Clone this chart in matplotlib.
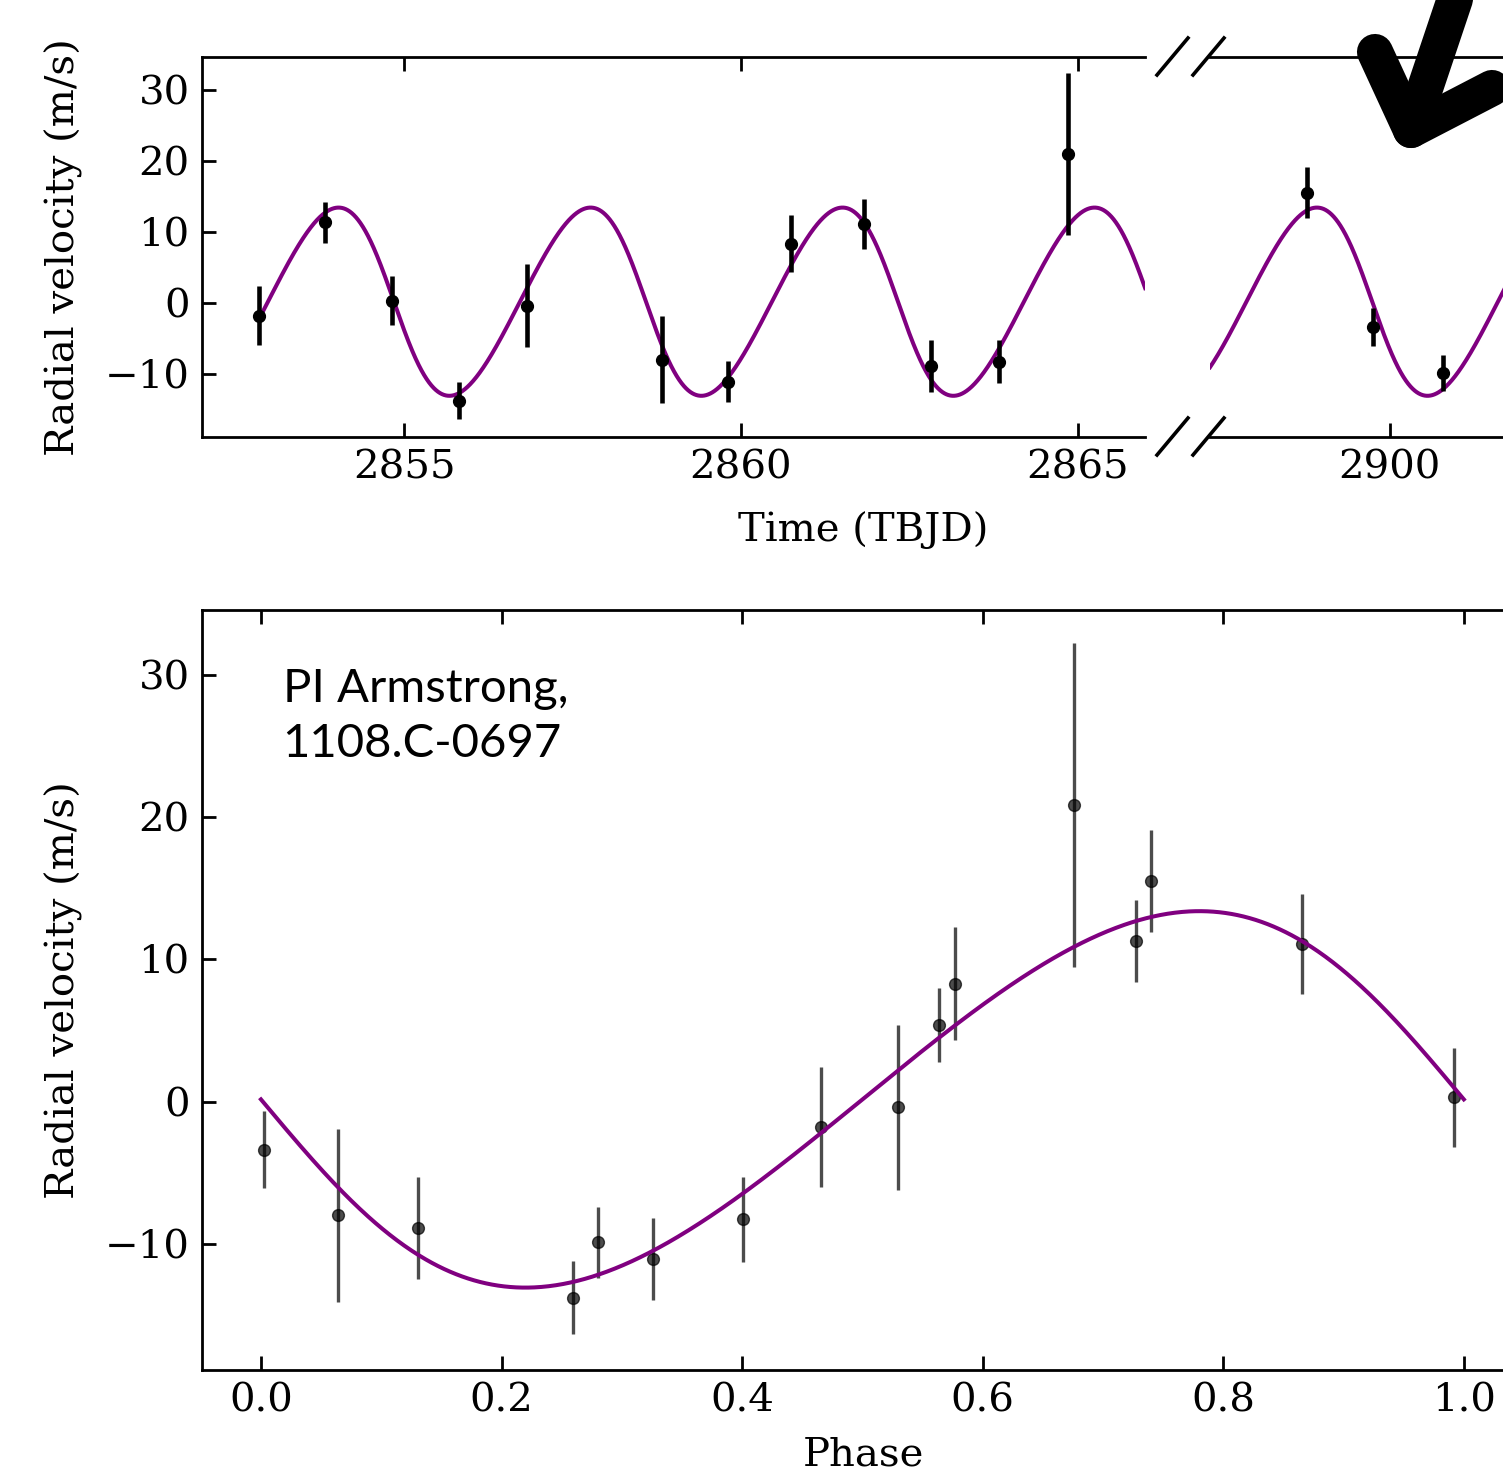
import numpy as np
import matplotlib
matplotlib.use('Agg')
import matplotlib.pyplot as plt
from matplotlib.lines import Line2D

# HARPS radial velocities (TBJD, m/s)
time_tbjd = [2852.85, 2853.83, 2854.82, 2855.82, 2856.83, 2858.83, 2859.81,
             2860.75, 2861.83, 2862.82, 2863.83, 2864.86,
             2898.77, 2899.75, 2900.79, 2901.85]
rv = [-1.8, 11.3, 0.3, -13.8, -0.4, -8.0, -11.1, 8.3, 11.1, -8.9, -8.3, 20.9,
      15.5, -3.4, -9.9, 5.4]
rv_err = [4.2, 2.9, 3.5, 2.6, 5.8, 6.1, 2.9, 4.0, 3.5, 3.6, 3.0, 11.4,
          3.6, 2.7, 2.5, 2.6]

# keplerian fit parameters
period = 3.741
t_peri = 2854.85
ecc = 0.095
omega_deg = 90.0
k_amp = 13.25
gamma = 0.15

time_ticks_left = [2855, 2860, 2865]
time_ticks_right = [2900]
rv_ticks = [-10, 0, 10, 20, 30]
phase_ticks = [0.0, 0.2, 0.4, 0.6, 0.8, 1.0]


def rv_model(t):
    M = 2 * np.pi * (np.asarray(t) - t_peri) / period
    E = M.copy()
    for _ in range(60):
        E = E - (E - ecc * np.sin(E) - M) / (1 - ecc * np.cos(E))
    nu = 2 * np.arctan2(np.sqrt(1 + ecc) * np.sin(E / 2), np.sqrt(1 - ecc) * np.cos(E / 2))
    w = np.radians(omega_deg)
    return gamma + k_amp * (np.cos(nu + w) + ecc * np.cos(w))


W, H = 1503, 1474
plt.rcParams['font.family'] = 'DejaVu Serif'
plt.rcParams['mathtext.fontset'] = 'dejavuserif'

fig = plt.figure(figsize=(W / 100, H / 100), dpi=100, facecolor='white')


def box(x0, y0, x1, y1):
    # pixel box -> figure fraction [left, bottom, width, height]
    return [x0 / W, 1 - y1 / H, (x1 - x0) / W, (y1 - y0) / H]


def px(x, y):
    return x / W, 1 - y / H


ax1 = fig.add_axes(box(202, 57, 1145, 437))
ax2 = fig.add_axes(box(1210, 57, 1524, 437))
ax3 = fig.add_axes(box(202, 610, 1524, 1370))

t = np.array(time_tbjd)
v = np.array(rv)
ve = np.array(rv_err)
phase = ((t - t_peri) / period) % 1.0

t_grid = np.linspace(t.min(), t.max(), 20000)
rv_grid = rv_model(t_grid)
ph_grid = np.linspace(0, 1, 1000)
rv_ph = rv_model(t_peri + ph_grid * period)

fs = 29
tick_kw = dict(direction='in', length=10, width=2, labelsize=fs, pad=9)

for ax in (ax1, ax2):
    ax.plot(t_grid, rv_grid, color='purple', lw=2.9, zorder=1)
    ax.errorbar(t, v, yerr=ve, fmt='o', color='black', ms=8.5, elinewidth=3.3,
                capsize=0, zorder=2)
    for s in ax.spines.values():
        s.set_linewidth(2)

ax1.set_xticks(time_ticks_left)
ax2.set_xticks(time_ticks_right)
ax1.set_yticks(rv_ticks)
ax1.set_xlim(2852, 2866)
ax2.set_xlim(2897.33, 2902.0)
ax1.set_ylim(-18.9, 34.6)
ax2.set_ylim(-18.9, 34.6)
ax1.spines['right'].set_visible(False)
ax2.spines['left'].set_visible(False)
ax1.tick_params(axis='x', top=True, **tick_kw)
ax1.tick_params(axis='y', left=True, right=False, **tick_kw)
ax2.tick_params(axis='x', top=True, **tick_kw)
ax2.tick_params(axis='y', left=False, right=False, labelleft=False)
ax1.set_ylabel('Radial velocity (m/s)', fontsize=fs)
ax1.yaxis.set_label_coords((83 - 202) / 943, 0.5)

fig.text(863 / W, 1 - 530 / H, 'Time (TBJD)', fontsize=fs, ha='center', va='center')

# break marks
for yy in (57, 437):
    for xa in (1157, 1193):
        x0, y0 = px(xa, yy + 18)
        x1, y1 = px(xa + 31, yy - 19)
        fig.add_artist(Line2D([x0, x1], [y0, y1], transform=fig.transFigure,
                              color='black', lw=2.6))

# phase-folded panel
ax3.errorbar(phase, v, yerr=ve, fmt='o', color='black', alpha=0.7, ms=8.5,
             elinewidth=2.4, capsize=0, zorder=2)
ax3.plot(ph_grid, rv_ph, color='purple', lw=2.9, zorder=3)
ax3.set_xticks(phase_ticks)
ax3.set_yticks(rv_ticks)
ax3.set_xlim(-0.049, 1.05)
ax3.set_ylim(-18.9, 34.6)
ax3.tick_params(axis='both', top=True, right=True, **tick_kw)
for s in ax3.spines.values():
    s.set_linewidth(2)
ax3.set_xlabel('Phase', fontsize=fs, labelpad=12)
ax3.set_ylabel('Radial velocity (m/s)', fontsize=fs)
ax3.yaxis.set_label_coords((83 - 202) / 1322, 0.5)

ax3.text(0.018, 30.55, 'PI Armstrong,\n1108.C-0697', fontsize=34, family='Lato',
         ha='left', va='top', linespacing=1.4)

# hand-drawn arrow
arm = [px(1375, 52), px(1411, 130), px(1492, 88)]
fig.add_artist(Line2D([p[0] for p in arm], [p[1] for p in arm],
                      transform=fig.transFigure, color='black', lw=26,
                      solid_capstyle='round', solid_joinstyle='round'))
sh = [px(1411, 130), px(1458, -10)]
fig.add_artist(Line2D([p[0] for p in sh], [p[1] for p in sh],
                      transform=fig.transFigure, color='black', lw=26,
                      solid_capstyle='round'))

fig.savefig('out.png', dpi=100, facecolor='white')
